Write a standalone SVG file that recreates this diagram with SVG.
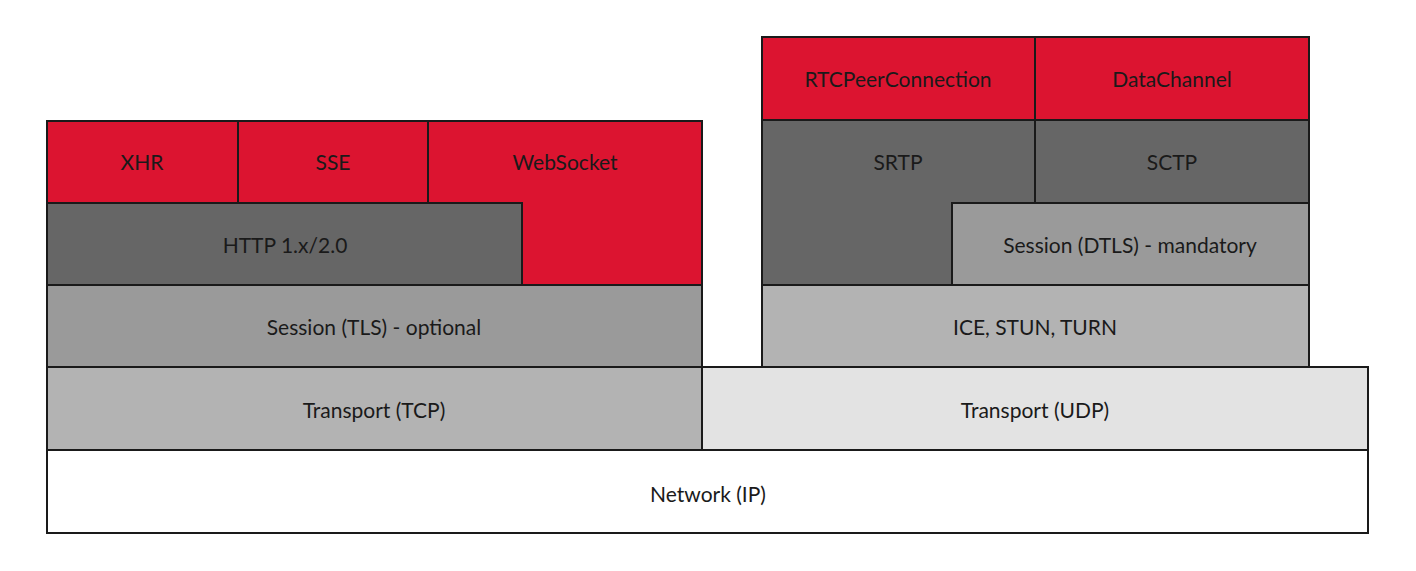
<svg xmlns="http://www.w3.org/2000/svg" width="1416" height="571" viewBox="0 0 1416 571">
<style>
rect{stroke:#1a1a1a;stroke-width:2}
.r{fill:#dc1430}.d{fill:#666666}.m{fill:#9a9a9a}.l{fill:#b3b3b3}.x{fill:#e3e3e3}.w{fill:#ffffff}
text{font-family:Lato,"Liberation Sans",sans-serif;font-size:21px;fill:#1a1a1a;text-anchor:middle;dominant-baseline:central}
</style>
<rect width="1416" height="571" fill="#fff" style="stroke:none"/>
<g id="network"><rect class="w" x="47" y="450" width="1321" height="83"/><text x="708" y="493">Network (IP)</text></g>
<g id="tcp"><rect class="l" x="47" y="367" width="655" height="83"/><text x="374" y="409">Transport (TCP)</text></g>
<g id="udp"><rect class="x" x="702" y="367" width="666" height="83"/><text x="1035" y="409">Transport (UDP)</text></g>
<g id="tls"><rect class="m" x="47" y="285" width="655" height="82"/><text x="374" y="326">Session (TLS) - optional</text></g>
<g id="websocket"><rect class="r" x="428" y="121" width="274" height="164"/><text x="565" y="161">WebSocket</text></g>
<g id="xhr"><rect class="r" x="47" y="121" width="191" height="82"/><text x="142" y="161">XHR</text></g>
<g id="sse"><rect class="r" x="238" y="121" width="190" height="82"/><text x="333" y="161">SSE</text></g>
<g id="http"><rect class="d" x="47" y="203" width="475" height="82"/><text x="285" y="244">HTTP 1.x/2.0</text></g>
<g id="ice"><rect class="l" x="762" y="285" width="547" height="82"/><text x="1035" y="326">ICE, STUN, TURN</text></g>
<g id="srtp"><rect class="d" x="762" y="120" width="273" height="165"/><text x="898" y="161">SRTP</text></g>
<g id="sctp"><rect class="d" x="1035" y="120" width="274" height="83"/><text x="1172" y="161">SCTP</text></g>
<g id="dtls"><rect class="m" x="952" y="203" width="357" height="82"/><text x="1130" y="244">Session (DTLS) - mandatory</text></g>
<g id="rtcpeer"><rect class="r" x="762" y="37" width="273" height="83"/><text x="898" y="78">RTCPeerConnection</text></g>
<g id="datachannel"><rect class="r" x="1035" y="37" width="274" height="83"/><text x="1172" y="78">DataChannel</text></g>
<g id="connectors"></g>
</svg>
